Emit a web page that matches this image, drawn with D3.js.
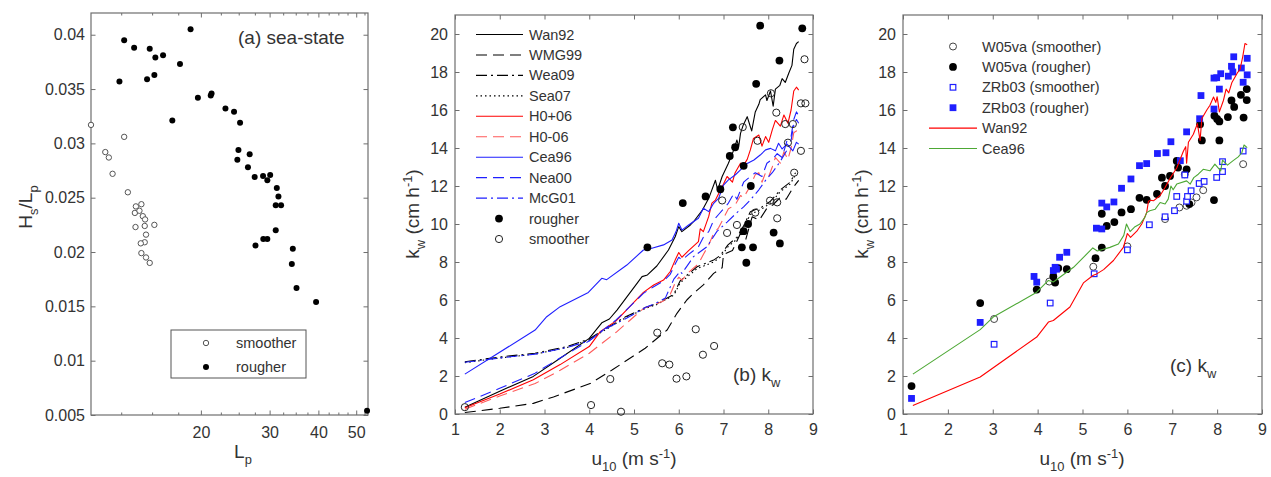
<!DOCTYPE html>
<html><head><meta charset="utf-8">
<script src="https://cdn.jsdelivr.net/npm/d3@7"></script>
<style>
body{margin:0;background:#fff}
text{font-family:Arial,"Liberation Sans",Helvetica,sans-serif;fill:#333}
</style>
</head><body>
<svg id="chart" width="1271" height="477"></svg>
<script>
// ---------------- DATA ----------------
// Panel (a): [Lp, Hs/Lp]
const aSmoother = [[10.46,0.0317],[12.72,0.0306],[11.38,0.0292],[11.62,0.0287],[11.88,0.0272],[13.0,0.0255],[13.63,0.0242],[14.08,0.0244],[13.55,0.0236],[13.92,0.0238],[14.2,0.0233],[14.39,0.0230],[14.36,0.0224],[15.2,0.0225],[13.6,0.0223],[14.47,0.0216],[14.36,0.0209],[14.03,0.0208],[14.08,0.0199],[14.47,0.0195],[14.79,0.0190]];
const aRougher = [[12.72,0.0395],[13.49,0.0388],[14.79,0.0387],[15.29,0.0379],[16.0,0.0381],[17.68,0.0373],[18.82,0.0405],[12.37,0.0357],[14.56,0.0359],[15.2,0.0363],[16.9,0.0321],[19.65,0.0342],[21.2,0.0344],[21.3,0.0346],[23.12,0.0332],[24.32,0.0329],[25.2,0.0319],[24.96,0.0294],[24.8,0.0285],[26.67,0.0290],[26.4,0.0278],[27.47,0.0269],[28.86,0.0270],[29.6,0.0266],[30.1,0.0271],[31.3,0.0259],[31.6,0.0251],[31.1,0.0243],[32.1,0.0243],[31.1,0.0220],[28.9,0.0212],[29.6,0.0212],[27.6,0.0206],[34.4,0.0203],[34.2,0.0189],[35.16,0.0167],[39.46,0.0154],[53.3,0.0054]];
const aYTicks = [0.005,0.01,0.015,0.02,0.025,0.03,0.035,0.04];
const aYLabels = ["0.005","0.01","0.015","0.02","0.025","0.03","0.035","0.04"];
const aXTicks = [20,30,40,50];
const aXMinor = [12.5,15,17.5,22.5,25,27.5,32.5,35,37.5,42.5,45,47.5,52.5];

// Panel (b): [u10, kw]
const bWan92 = [[1.22,0.36],[2.0,1.2],[2.75,1.98],[3.35,2.93],[4.0,3.98],[4.28,4.8],[4.45,5.0],[4.62,5.47],[5.18,7.23],[5.3,7.32],[5.51,7.79],[5.77,8.63],[5.92,9.33],[6.0,9.86],[6.07,9.6],[6.26,9.95],[6.33,10.12],[6.52,10.7],[6.67,11.35],[6.82,12.3],[6.87,11.8],[6.97,12.5],[7.11,13.2],[7.23,13.9],[7.3,14.42],[7.34,14.07],[7.38,14.77],[7.44,15.2],[7.53,15.65],[7.6,15.12],[7.63,14.9],[7.71,15.9],[7.79,16.3],[7.82,16.55],[7.94,16.8],[7.97,16.5],[8.05,17.0],[8.11,16.2],[8.16,17.1],[8.26,17.3],[8.31,17.65],[8.38,17.45],[8.46,17.95],[8.53,18.35],[8.57,19.2],[8.63,19.5],[8.68,19.6]];
const bWMG99 = [[1.22,0.08],[2.0,0.3],[2.75,0.56],[3.2,0.9],[4.02,1.6],[4.5,2.3],[5.25,3.46],[5.74,4.42],[5.96,5.3],[6.18,6.0],[6.33,6.35],[6.55,6.8],[6.78,7.4],[6.97,7.7],[7.0,8.4],[7.2,8.6],[7.38,9.5],[7.5,9.2],[7.64,10.38],[7.8,10.2],[7.97,10.83],[8.1,11.0],[8.27,11.4],[8.4,11.3],[8.55,11.9],[8.68,12.3]];
const bWea09 = [[1.22,2.75],[2.0,3.0],[2.79,3.2],[3.5,3.55],[4.0,3.95],[4.3,4.4],[4.8,5.1],[5.25,5.6],[5.5,5.8],[5.89,6.3],[6.03,7.0],[6.41,7.75],[6.78,8.1],[6.93,8.35],[7.1,8.9],[7.3,9.3],[7.45,9.9],[7.6,10.65],[7.86,10.9],[8.05,11.2],[8.27,11.8],[8.49,12.2],[8.61,12.7]];
const bSea07 = [[1.22,2.7],[2.0,2.95],[2.79,3.15],[3.5,3.5],[4.0,3.9],[4.3,4.35],[4.8,5.05],[5.25,5.55],[5.5,5.75],[5.89,6.25],[6.03,6.9],[6.41,7.65],[6.78,8.0],[6.93,8.25],[7.1,8.8],[7.3,9.2],[7.45,9.8],[7.6,10.5],[7.86,10.8],[8.05,11.1],[8.27,11.7],[8.49,12.1],[8.61,12.6]];
const bH0p06 = [[1.22,0.33],[2.0,1.05],[2.75,1.8],[3.35,2.6],[4.0,3.55],[4.25,4.35],[4.6,4.9],[5.21,6.4],[5.44,6.79],[5.66,7.05],[5.81,7.5],[5.92,8.1],[6.0,8.5],[6.07,8.25],[6.22,8.6],[6.44,9.07],[6.48,9.75],[6.55,9.6],[6.67,10.4],[6.74,11.1],[6.82,11.26],[7.0,12.1],[7.08,12.5],[7.2,12.2],[7.26,12.7],[7.38,13.2],[7.45,13.1],[7.53,13.4],[7.6,13.9],[7.67,14.5],[7.79,14.68],[7.86,14.1],[7.94,14.6],[8.01,14.3],[8.09,14.95],[8.16,15.45],[8.27,15.15],[8.35,15.74],[8.44,15.3],[8.51,16.0],[8.57,17.0],[8.63,17.2],[8.68,17.05]];
const bH0m06 = [[1.22,0.25],[2.0,0.95],[2.79,1.6],[3.35,2.3],[4.0,3.2],[4.3,3.75],[4.6,4.3],[5.21,5.55],[5.44,5.75],[5.66,5.95],[5.81,6.3],[5.92,6.9],[6.0,7.2],[6.07,7.05],[6.22,7.45],[6.44,7.9],[6.55,8.4],[6.67,8.9],[6.78,9.5],[6.89,9.8],[7.0,10.3],[7.11,10.8],[7.26,11.0],[7.38,11.5],[7.45,11.4],[7.6,12.0],[7.71,12.6],[7.79,12.7],[7.86,12.2],[7.94,12.7],[8.01,12.5],[8.09,13.0],[8.16,13.5],[8.27,13.2],[8.35,13.8],[8.44,13.4],[8.51,14.0],[8.57,14.8],[8.63,14.9],[8.68,14.8]];
const bCea96 = [[1.22,2.1],[2.79,4.42],[3.05,5.12],[3.35,5.65],[3.98,6.4],[4.28,7.14],[4.39,7.07],[4.84,7.84],[5.21,8.63],[5.4,8.72],[5.66,8.9],[5.85,9.16],[5.94,9.6],[6.0,10.04],[6.07,9.68],[6.22,9.95],[6.44,10.3],[6.55,10.83],[6.67,10.65],[6.78,11.09],[6.89,11.35],[7.0,12.05],[7.11,12.32],[7.26,12.58],[7.38,12.85],[7.53,13.19],[7.68,13.37],[7.82,13.63],[7.94,13.9],[8.05,13.98],[8.16,13.85],[8.23,14.25],[8.31,13.95],[8.42,14.2],[8.55,13.85],[8.63,14.3],[8.68,14.2]];
const bNea00 = [[1.22,0.6],[2.0,1.35],[2.79,2.15],[3.35,2.95],[4.0,3.85],[4.3,4.4],[4.6,4.95],[5.21,6.35],[5.44,6.7],[5.66,7.0],[5.81,7.35],[5.92,7.9],[6.0,8.25],[6.07,8.1],[6.22,8.4],[6.44,8.8],[6.55,9.3],[6.67,9.6],[6.78,10.2],[6.89,10.5],[7.0,10.8],[7.11,11.1],[7.23,11.6],[7.3,11.3],[7.45,12.2],[7.6,12.5],[7.71,12.7],[7.86,12.5],[7.97,13.2],[8.09,13.4],[8.2,13.7],[8.31,13.5],[8.42,14.4],[8.51,14.6],[8.57,15.5],[8.63,15.9],[8.68,15.7]];
const bMcG01 = [[1.22,2.72],[2.0,2.95],[2.79,3.15],[3.5,3.5],[4.0,3.85],[4.3,4.4],[4.8,5.0],[5.25,5.6],[5.5,5.85],[5.7,6.1],[5.89,7.1],[6.03,7.5],[6.07,7.4],[6.33,8.28],[6.63,8.8],[6.85,9.6],[7.08,10.1],[7.3,10.6],[7.45,10.9],[7.6,11.26],[7.79,11.8],[7.94,12.3],[8.09,12.7],[8.27,13.3],[8.42,13.9],[8.51,14.4],[8.57,15.2],[8.63,15.5],[8.68,15.3]];
const bRougher = [[5.3,8.77],[6.09,11.1],[6.6,11.45],[6.93,11.83],[7.14,13.58],[7.21,15.09],[7.26,14.04],[7.41,8.77],[7.45,13.06],[7.45,9.62],[7.51,7.96],[7.55,10.0],[7.61,12.0],[7.66,8.77],[7.73,17.38],[7.82,20.44],[8.12,9.55],[8.25,18.6],[8.26,8.98],[8.76,20.3]];
const bSmoother = [[1.22,0.36],[4.04,0.47],[4.47,1.84],[4.71,0.12],[5.52,4.28],[5.63,2.67],[5.79,2.6],[5.95,1.86],[6.17,1.98],[6.38,4.46],[6.54,3.12],[6.79,3.58],[6.97,11.24],[7.08,9.53],[7.3,9.95],[7.43,15.1],[7.71,10.6],[7.76,14.38],[8.04,11.23],[8.06,16.88],[8.18,15.86],[8.2,11.14],[8.2,10.3],[8.38,15.26],[8.44,14.28],[8.55,15.26],[8.58,12.7],[8.73,16.35],[8.73,13.85],[8.81,18.67],[8.83,16.35]];

// Panel (c): [u10, kw]
const cW05Smoother = [[3.03,5.0],[4.26,6.97],[5.24,7.75],[6.0,8.82],[6.84,10.26],[7.16,10.87],[7.32,10.96],[7.43,11.13],[7.54,11.4],[7.69,11.78],[7.28,12.62],[8.58,13.15]];
const cW05Rougher = [[1.19,1.47],[2.72,5.84],[3.98,6.55],[4.35,7.24],[4.39,6.92],[4.46,7.68],[4.65,7.62],[5.29,8.2],[5.43,8.76],[5.43,10.54],[5.54,9.9],[5.71,10.1],[5.87,10.61],[6.08,10.78],[6.27,11.38],[6.43,11.27],[6.66,11.58],[6.77,12.44],[6.84,12.0],[6.95,12.53],[7.1,13.32],[7.13,12.97],[7.32,12.88],[7.38,11.05],[7.62,15.25],[7.66,14.4],[7.93,11.26],[7.94,15.7],[8.0,15.53],[8.05,15.4],[8.05,14.4],[8.24,15.63],[8.32,16.5],[8.38,16.16],[8.53,16.8],[8.59,15.6],[8.66,17.1],[8.66,16.52]];
const cZRbSmoother = [[3.03,3.67],[4.28,5.84],[5.26,7.38],[6.0,8.64],[6.49,9.96],[6.84,10.38],[7.05,10.7],[7.1,11.45],[7.28,12.58],[7.32,11.2],[7.34,11.45],[7.42,11.75],[7.6,12.13],[7.71,12.24],[7.99,12.45],[8.12,12.76],[8.12,13.28],[8.58,13.84]];
const cZRbRougher = [[1.19,0.82],[2.72,4.82],[3.92,7.24],[3.98,6.94],[4.35,7.55],[4.39,7.72],[4.42,7.62],[4.49,8.25],[4.65,8.51],[5.31,9.78],[5.43,9.74],[5.43,11.1],[5.54,10.9],[5.7,11.16],[5.87,11.88],[6.08,12.37],[6.27,13.07],[6.43,13.18],[6.67,13.71],[6.86,13.75],[6.97,14.33],[7.18,13.33],[7.32,14.85],[7.61,15.54],[7.64,16.76],[7.93,16.05],[7.93,17.68],[7.99,17.7],[8.05,17.1],[8.08,17.91],[8.25,17.78],[8.32,18.3],[8.35,18.0],[8.37,18.8],[8.54,18.21],[8.58,17.46],[8.67,18.72],[8.67,17.85]];
const cWan92 = [[1.22,0.45],[2.72,1.95],[3.98,4.05],[4.24,4.84],[4.35,4.92],[4.72,5.63],[5.02,6.9],[5.24,7.3],[5.3,7.35],[5.47,7.6],[5.69,8.08],[5.91,8.77],[6.0,9.5],[6.07,9.3],[6.21,9.62],[6.32,10.0],[6.43,10.6],[6.47,11.2],[6.52,11.25],[6.58,11.22],[6.73,11.5],[6.84,11.92],[6.95,12.4],[7.01,12.62],[7.1,12.95],[7.17,13.37],[7.25,13.84],[7.3,14.07],[7.32,13.2],[7.36,14.3],[7.47,14.72],[7.56,15.28],[7.62,14.4],[7.66,15.55],[7.77,16.0],[7.84,16.25],[7.92,16.68],[7.97,16.4],[8.0,16.7],[8.05,15.9],[8.14,16.5],[8.2,17.1],[8.26,16.9],[8.33,17.45],[8.45,17.95],[8.51,18.13],[8.57,18.8],[8.62,19.5],[8.67,19.44]];
const cCea96 = [[1.22,2.1],[2.72,4.44],[3.01,5.1],[3.98,6.41],[4.24,7.03],[4.35,6.95],[4.8,7.72],[5.23,8.74],[5.33,8.58],[5.61,8.77],[5.8,8.95],[5.92,9.4],[5.98,10.0],[6.06,9.6],[6.17,9.86],[6.28,10.0],[6.39,10.35],[6.43,10.6],[6.5,10.7],[6.62,10.78],[6.73,11.13],[6.84,11.05],[6.91,11.31],[6.97,12.0],[7.02,11.8],[7.1,12.1],[7.32,12.27],[7.4,12.1],[7.48,12.44],[7.58,12.62],[7.69,12.88],[7.84,12.8],[7.95,13.15],[8.08,12.8],[8.12,13.36],[8.23,13.1],[8.35,13.32],[8.47,13.53],[8.55,13.75],[8.6,14.16],[8.67,14.02]];

const uTicks = [1,2,3,4,5,6,7,8,9];
const kTicks = [0,2,4,6,8,10,12,14,16,18,20];

// ---------------- DRAW ----------------
const svg = d3.select("#chart");
const FONT = 'Arial,"Liberation Sans",Helvetica,sans-serif';
const TXT = "#333", AX = "#6e6e6e";
const BLUE = "#1f1fff", RED = "#ff0000", RED2 = "#ff5a5a", GREEN = "#4da835";
const DASH = "11,6", DASHDOT = "11,4,2,4", DOT = "1.5,3";

function styleAxis(g, fs){
  g.select(".domain").remove();
  g.selectAll(".tick line").attr("stroke", AX).attr("stroke-width",1);
  g.selectAll(".tick text").attr("fill", TXT).attr("font-size", fs).attr("font-family", FONT);
}
function frame(x, y, opt){
  const [x0,x1] = x.range(), [y0,y1] = y.range();
  const tl = 4.5;
  const gb = svg.append("g").attr("transform",`translate(0,${y0})`)
    .call(d3.axisBottom(x).tickValues(opt.xt).tickFormat(opt.xf).tickSize(-tl).tickPadding(opt.xpad));
  styleAxis(gb, 16);
  const gt = svg.append("g").attr("transform",`translate(0,${y1})`)
    .call(d3.axisTop(x).tickValues(opt.xt).tickFormat("").tickSize(-tl));
  styleAxis(gt, 16);
  if (opt.xm){
    svg.append("g").attr("transform",`translate(0,${y0})`)
      .call(d3.axisBottom(x).tickValues(opt.xm).tickFormat("").tickSize(-2.5)).call(g=>styleAxis(g,16));
    svg.append("g").attr("transform",`translate(0,${y1})`)
      .call(d3.axisTop(x).tickValues(opt.xm).tickFormat("").tickSize(-2.5)).call(g=>styleAxis(g,16));
  }
  const gl = svg.append("g").attr("transform",`translate(${x0},0)`)
    .call(d3.axisLeft(y).tickValues(opt.yt).tickFormat(opt.yf).tickSize(-tl).tickPadding(opt.ypad));
  styleAxis(gl, 16);
  const gr = svg.append("g").attr("transform",`translate(${x1},0)`)
    .call(d3.axisRight(y).tickValues(opt.yt).tickFormat("").tickSize(-tl));
  styleAxis(gr, 16);
  svg.append("rect").attr("x",x0).attr("y",y1).attr("width",x1-x0).attr("height",y0-y1)
    .attr("fill","none").attr("stroke",AX).attr("stroke-width",1.2);
}
function drawLine(x,y,data,color,dash){
  svg.append("path").datum(data)
    .attr("d", d3.line().x(d=>x(d[0])).y(d=>y(d[1])))
    .attr("fill","none").attr("stroke",color).attr("stroke-width",1.1)
    .attr("stroke-dasharray", dash || null).attr("stroke-linejoin","round");
}
function dots(x,y,data,r,fill,stroke,sw){
  svg.append("g").selectAll("circle").data(data).join("circle")
    .attr("cx",d=>x(d[0])).attr("cy",d=>y(d[1])).attr("r",r)
    .attr("fill",fill).attr("stroke",stroke||"none").attr("stroke-width",sw||0);
}
function squares(x,y,data,s,fill,stroke,sw){
  svg.append("g").selectAll("rect").data(data).join("rect")
    .attr("x",d=>x(d[0])-s/2).attr("y",d=>y(d[1])-s/2).attr("width",s).attr("height",s)
    .attr("fill",fill).attr("stroke",stroke||"none").attr("stroke-width",sw||0);
}
function label(x,y,parts,opt){
  const t = svg.append("text").attr("x",x).attr("y",y).attr("font-size",opt.fs)
    .attr("font-family",FONT).attr("fill",TXT).attr("text-anchor",opt.anchor||"start");
  if (opt.rot) t.attr("transform",`rotate(-90,${x},${y})`);
  let cur = 0;
  parts.forEach(p=>{
    const off = p[1]==="sub" ? 0.3*opt.fs : p[1]==="sup" ? -0.38*opt.fs : 0;
    const s = t.append("tspan").text(p[0]).attr("dy", off-cur);
    if (p[1]) s.attr("font-size", opt.fs*0.68);
    cur = off;
  });
  return t;
}

// ---- Panel (a)
const xa = d3.scaleLog().domain([10.46,53.6]).range([91,368]);
const ya = d3.scaleLinear().domain([0.005,0.042]).range([415,13]);
frame(xa, ya, {xt:aXTicks, xf:d=>String(d), xm:aXMinor, xpad:12,
  yt:aYTicks, yf:(d,i)=>aYLabels[i], ypad:6});
dots(xa, ya, aSmoother, 2.7, "#fff", "#555", 1);
dots(xa, ya, aRougher, 3, "#000");
label(238, 44, [["(a) sea-state"]], {fs:19});
label(243, 458, [["L"],["p","sub"]], {fs:19, anchor:"middle"});
label(32, 207, [["H"],["s","sub"],["/L"],["p","sub"]], {fs:19, anchor:"middle", rot:true});
// legend (a)
svg.append("rect").attr("x",171).attr("y",330).attr("width",135).attr("height",48)
  .attr("fill","#fff").attr("stroke","#555").attr("stroke-width",1);
dots(d=>206, d=>d, [[0,343]].map(d=>[0,343]), 0, "none");
svg.append("circle").attr("cx",206).attr("cy",343).attr("r",2.7).attr("fill","#fff").attr("stroke","#555").attr("stroke-width",1);
svg.append("circle").attr("cx",206).attr("cy",367).attr("r",3).attr("fill","#000");
label(236, 348, [["smoother"]], {fs:14.5});
label(236, 372, [["rougher"]], {fs:14.5});

// ---- Panel (b)
const xb = d3.scaleLinear().domain([1,9]).range([455,813]);
const yb = d3.scaleLinear().domain([0,21]).range([414,15]);
frame(xb, yb, {xt:uTicks, xf:d=>String(d), xpad:10, yt:kTicks, yf:d=>String(d), ypad:7});
const bLines = [
  {name:"Wan92", data:bWan92, color:"#000", dash:null},
  {name:"WMG99", data:bWMG99, color:"#000", dash:DASH},
  {name:"Wea09", data:bWea09, color:"#000", dash:DASHDOT},
  {name:"Sea07", data:bSea07, color:"#000", dash:DOT},
  {name:"H0+06", data:bH0p06, color:RED, dash:null},
  {name:"H0-06", data:bH0m06, color:RED2, dash:DASH},
  {name:"Cea96", data:bCea96, color:BLUE, dash:null},
  {name:"Nea00", data:bNea00, color:BLUE, dash:DASH},
  {name:"McG01", data:bMcG01, color:BLUE, dash:DASHDOT}
];
bLines.forEach(l=>drawLine(xb,yb,l.data,l.color,l.dash));
dots(xb, yb, bRougher, 3.9, "#000");
dots(xb, yb, bSmoother, 3.6, "none", "#222", 1);
// legend (b)
bLines.forEach((l,i)=>{
  const yy = 34.5 + i*20.45;
  svg.append("line").attr("x1",476).attr("x2",523).attr("y1",yy).attr("y2",yy)
    .attr("stroke",l.color).attr("stroke-width",1.1).attr("stroke-dasharray",l.dash||null);
  label(529, yy+5, [[l.name]], {fs:14.5});
});
{
  const y1 = 34.5 + 9*20.45, y2 = 34.5 + 10*20.45;
  svg.append("circle").attr("cx",499).attr("cy",y1).attr("r",3.9).attr("fill","#000");
  svg.append("circle").attr("cx",499).attr("cy",y2).attr("r",3.6).attr("fill","none").attr("stroke","#222");
  label(529, y1+5, [["rougher"]], {fs:14.5});
  label(529, y2+5, [["smoother"]], {fs:14.5});
}
label(733, 381, [["(b) k"],["w","sub"]], {fs:19});
label(634, 465, [["u"],["10","sub"],[" (m s"],["-1","sup"],[")"]], {fs:19, anchor:"middle"});
label(419, 214, [["k"],["w","sub"],[" (cm h"],["-1","sup"],[")"]], {fs:19, anchor:"middle", rot:true});

// ---- Panel (c)
const xc = d3.scaleLinear().domain([1,9]).range([903,1262]);
const yc = d3.scaleLinear().domain([0,21]).range([414,15]);
frame(xc, yc, {xt:uTicks, xf:d=>String(d), xpad:10, yt:kTicks, yf:d=>String(d), ypad:7});
dots(xc, yc, cW05Smoother, 3.5, "none", "#444", 1);
dots(xc, yc, cW05Rougher, 3.9, "#000");
squares(xc, yc, cZRbSmoother, 5.6, "#fff", BLUE, 1.2);
squares(xc, yc, cZRbRougher, 6.8, BLUE);
drawLine(xc, yc, cWan92, RED, null);
drawLine(xc, yc, cCea96, GREEN, null);
// legend (c)
{
  const rows = [46.5, 66.9, 87.3, 107.7, 128.1, 148.5];
  svg.append("circle").attr("cx",953).attr("cy",rows[0]).attr("r",3.5).attr("fill","none").attr("stroke","#444");
  svg.append("circle").attr("cx",953).attr("cy",rows[1]).attr("r",3.9).attr("fill","#000");
  svg.append("rect").attr("x",953-2.8).attr("y",rows[2]-2.8).attr("width",5.6).attr("height",5.6).attr("fill","#fff").attr("stroke",BLUE).attr("stroke-width",1.2);
  svg.append("rect").attr("x",953-3.4).attr("y",rows[3]-3.4).attr("width",6.8).attr("height",6.8).attr("fill",BLUE);
  svg.append("line").attr("x1",929).attr("x2",977).attr("y1",rows[4]).attr("y2",rows[4]).attr("stroke",RED).attr("stroke-width",1.1);
  svg.append("line").attr("x1",929).attr("x2",977).attr("y1",rows[5]).attr("y2",rows[5]).attr("stroke",GREEN).attr("stroke-width",1.1);
  const names = ["W05va (smoother)","W05va (rougher)","ZRb03 (smoother)","ZRb03 (rougher)","Wan92","Cea96"];
  names.forEach((n,i)=>label(982, rows[i]+5, [[n]], {fs:14.5}));
}
label(1170, 372, [["(c) k"],["w","sub"]], {fs:19});
label(1082, 465, [["u"],["10","sub"],[" (m s"],["-1","sup"],[")"]], {fs:19, anchor:"middle"});
label(868, 214, [["k"],["w","sub"],[" (cm h"],["-1","sup"],[")"]], {fs:19, anchor:"middle", rot:true});
</script>
</body></html>
